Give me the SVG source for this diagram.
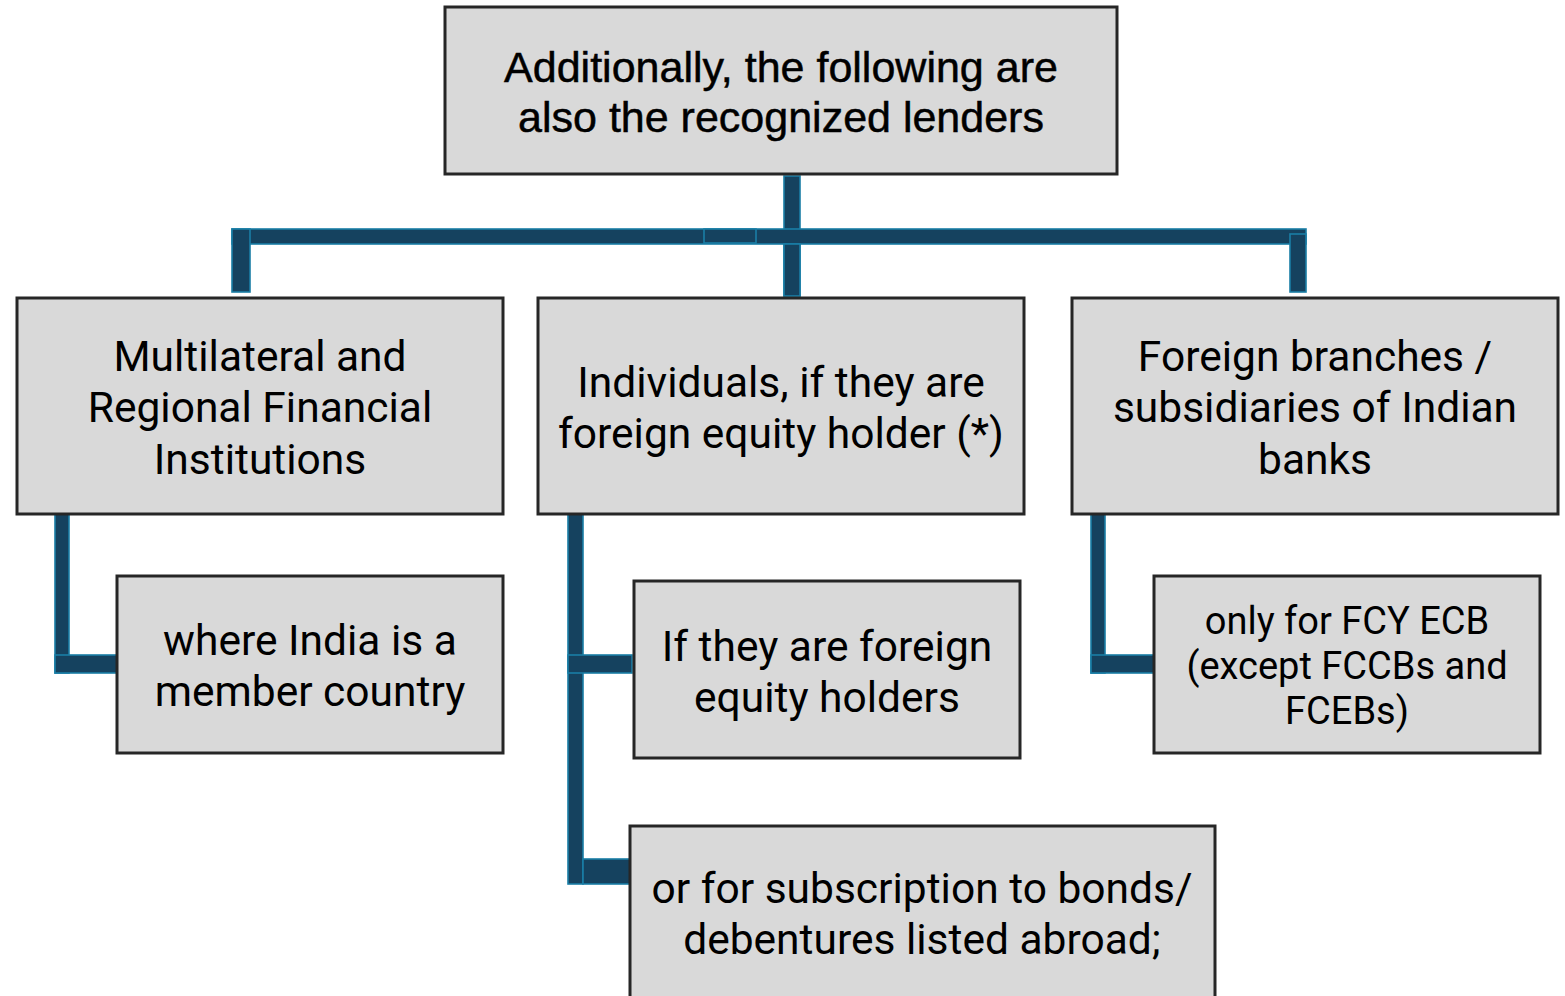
<svg xmlns="http://www.w3.org/2000/svg" width="1565" height="996" viewBox="0 0 1565 996">
<style>
.box{fill:#D9D9D9;stroke:#262626;stroke-width:3}
.c{fill:#15425F;stroke:#1A7EA6;stroke-width:1.6}
.t{font-family:Roboto,"Liberation Sans",sans-serif;font-size:42.5px;fill:#000;text-anchor:middle}
.s{font-size:38px}
.h{font-family:"Liberation Sans",Arial,sans-serif;font-size:43px;fill:#000;stroke:#000;stroke-width:0.5;text-anchor:middle}
</style>
<rect width="1565" height="996" fill="#fff"/>
<g id="connectors">
<rect class="c" x="784" y="176" width="16" height="120"/>
<rect class="c" x="232" y="229" width="1074" height="15"/>
<rect class="c" x="704" y="229" width="52" height="14"/>
<rect class="c" x="784" y="244" width="16" height="52"/>
<rect class="c" x="232" y="229" width="18" height="63"/>
<rect class="c" x="1290" y="234" width="16" height="58"/>
<rect class="c" x="55" y="514" width="14" height="159"/>
<rect class="c" x="55" y="655" width="62" height="18"/>
<rect class="c" x="568" y="514" width="15" height="370"/>
<rect class="c" x="568" y="655" width="64" height="18"/>
<rect class="c" x="583" y="859" width="47" height="25"/>
<rect class="c" x="1091" y="514" width="14" height="159"/>
<rect class="c" x="1091" y="655" width="63" height="18"/>
</g>
<g id="root">
<rect class="box" x="445" y="7" width="672" height="167"/>
<text class="h" x="781" y="82">Additionally, the following are</text>
<text class="h" x="781" y="132">also the recognized lenders</text>
</g>
<g id="multilateral">
<rect class="box" x="17" y="298" width="486" height="216"/>
<text class="t" x="260" y="371">Multilateral and</text>
<text class="t" x="260" y="422">Regional Financial</text>
<text class="t" x="260" y="474">Institutions</text>
</g>
<g id="individuals">
<rect class="box" x="538" y="298" width="486" height="216"/>
<text class="t" x="781" y="397">Individuals, if they are</text>
<text class="t" x="781" y="448">foreign equity holder (*)</text>
</g>
<g id="foreign-branches">
<rect class="box" x="1072" y="298" width="486" height="216"/>
<text class="t" x="1315" y="371">Foreign branches /</text>
<text class="t" x="1315" y="422">subsidiaries of Indian</text>
<text class="t" x="1315" y="474">banks</text>
</g>
<g id="member-country">
<rect class="box" x="117" y="576" width="386" height="177"/>
<text class="t" x="310" y="655">where India is a</text>
<text class="t" x="310" y="706">member country</text>
</g>
<g id="equity-holders">
<rect class="box" x="634" y="581" width="386" height="177"/>
<text class="t" x="827" y="661">If they are foreign</text>
<text class="t" x="827" y="712">equity holders</text>
</g>
<g id="bonds">
<rect class="box" x="630" y="826" width="585" height="180"/>
<text class="t" x="922" y="903">or for subscription to bonds/</text>
<text class="t" x="922" y="954">debentures listed abroad;</text>
</g>
<g id="fcy-ecb">
<rect class="box" x="1154" y="576" width="386" height="177"/>
<text class="t s" x="1347" y="634">only for FCY ECB</text>
<text class="t s" x="1347" y="679">(except FCCBs and</text>
<text class="t s" x="1347" y="724">FCEBs)</text>
</g>
</svg>
